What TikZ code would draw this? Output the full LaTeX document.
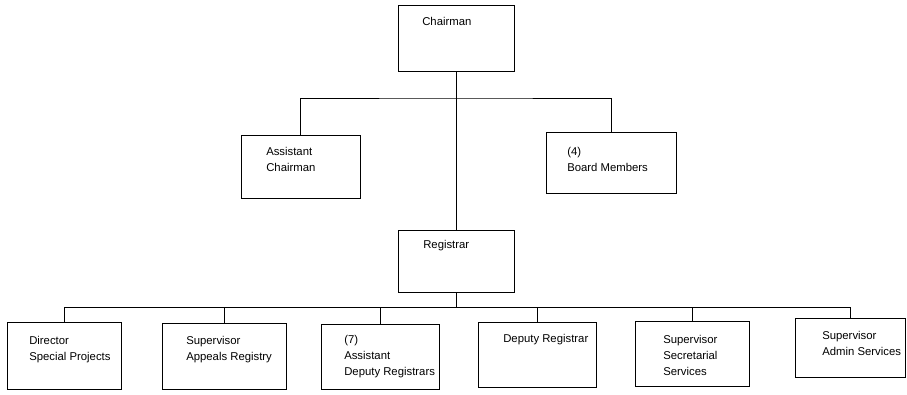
\documentclass[tikz,border=0pt]{standalone}
\usepackage{fontspec}
\setmainfont{Liberation Sans}
\usetikzlibrary{fit}

\begin{document}
\begin{tikzpicture}[
  x=0.75pt, y=-0.75pt,
  box/.style={draw, line width=0.6pt, inner sep=0pt},
  lbl/.style={anchor=north west, inner sep=0pt, align=left, font=\fontsize{8.5}{12}\selectfont},
  conn/.style={line width=0.6pt}
]
\useasboundingbox (0,0) rectangle (907,394);
% boxes
\node[box, fit={(398,5) (514,71)}] (chair) {};
\node[box, fit={(241,135) (360,198)}] (asst) {};
\node[box, fit={(546,132) (676,193)}] (board) {};
\node[box, fit={(398,230) (514,292)}] (reg) {};
\node[box, fit={(7,322) (121,389)}] (dir) {};
\node[box, fit={(162,323) (286,389)}] (appeal) {};
\node[box, fit={(321,324) (439,389)}] (adr) {};
\node[box, fit={(478,322) (596,387)}] (depreg) {};
\node[box, fit={(635,321) (749,386)}] (secret) {};
\node[box, fit={(795,318) (905,377)}] (admin) {};
% texts
\node[lbl] (chairT) at (422,17) {Chairman};
\node[lbl] (asstT) at (266,147) {Assistant\\Chairman};
\node[lbl] (boardT) at (567,147) {(4)\\Board Members};
\node[lbl] (regT) at (423,240) {Registrar};
\node[lbl] (dirT) at (29,336) {Director\\Special Projects};
\node[lbl] (appealT) at (186,336) {Supervisor\\Appeals Registry};
\node[lbl] (adrT) at (344,335) {(7)\\Assistant\\Deputy Registrars};
\node[lbl] (depregT) at (503,334) {Deputy Registrar};
\node[lbl] (secretT) at (663,335) {Supervisor\\Secretarial\\Services};
\node[lbl] (adminT) at (822,331) {Supervisor\\Admin Services};
% connectors
\coordinate (upbus) at (456,98);
\coordinate (lowbus) at (456,307);
\draw[conn] (chair) -- (reg);
\draw[conn] (asst.north) |- (upbus) -| (board.north);
\draw[conn] (reg.south) -- (lowbus);
\foreach \n in {dir,appeal,adr,depreg,secret,admin}
  \draw[conn] (\n.north) |- (lowbus);
\end{tikzpicture}
\end{document}
